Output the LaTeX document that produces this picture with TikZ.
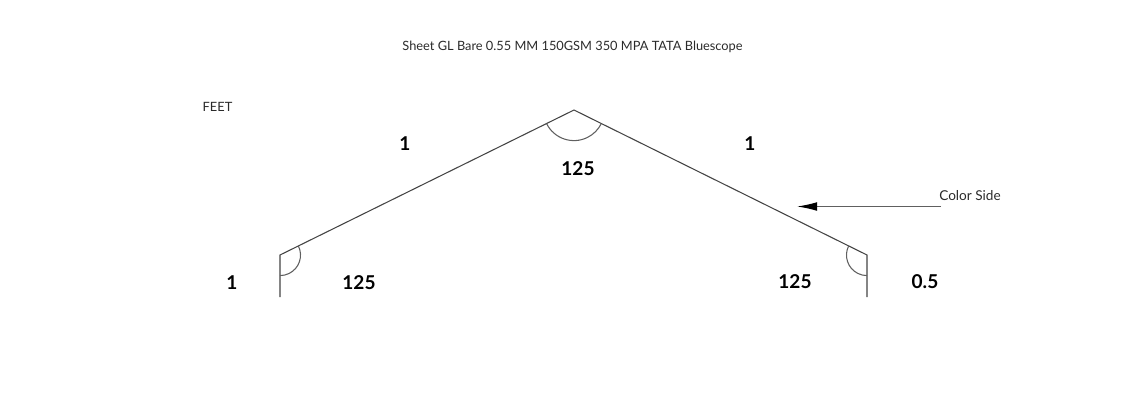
\documentclass[tikz,border=0pt]{standalone}
\usepackage{fontspec}
\setmainfont{Lato}
\usetikzlibrary{arrows.meta}
\definecolor{ink}{HTML}{444444}
\definecolor{txt}{HTML}{2A2A2A}
\tikzset{
  sheet/.style={draw=ink,line width=0.8pt},
  anglearc/.style={draw=ink!85,line width=0.8pt},
  lbl/.style={text=txt,font=\fontsize{9.6pt}{11pt}\selectfont,inner sep=0pt},
  dim/.style={text=black,font=\fontsize{14.3pt}{16pt}\selectfont\bfseries,inner sep=0pt}
}
\begin{document}
\begin{tikzpicture}[x=0.75pt,y=-0.75pt]
\useasboundingbox (0,0) rectangle (1138,415);
\coordinate (lb) at (280,297);
\coordinate (lc) at (280,255);
\coordinate (ap) at (574,110);
\coordinate (rc) at (867,255);
\coordinate (rb) at (867,297);
\draw[sheet,line join=miter] (lb) -- (lc) -- (ap) -- (rc) -- (rb);
\draw[anglearc] (546.6,123.6) arc[start angle=153.7,end angle=26.3,radius=30.5];
\draw[anglearc] (298.4,246) arc[start angle=-26.3,end angle=90,radius=20.5];
\draw[anglearc] (848.6,246) arc[start angle=206.3,end angle=90,radius=20.5];
\node[lbl] (title) at (572.5,47) {Sheet GL Bare 0.55 MM 150GSM 350 MPA TATA Bluescope};
\node[lbl] (feet) at (217.5,107) {FEET};
\node[lbl,font=\fontsize{10.2pt}{12pt}\selectfont] (color) at (970,196) {Color Side};
\coordinate (arrfrom) at (941,206.5);
\coordinate (arrto) at (797,206.5);
\draw[draw=ink!85,line width=0.9pt,-{Latex[length=15pt,width=6.5pt,black]}] (arrfrom) -- (arrto);
\node[dim] (d1) at (405,143.5) {1};
\node[dim] (d2) at (750,143.5) {1};
\node[dim] (d3) at (578,168.5) {125};
\node[dim] (d4) at (232,282.5) {1};
\node[dim] (d5) at (359,282.5) {125};
\node[dim] (d6) at (795,281.5) {125};
\node[dim] (d7) at (925,281.5) {0.5};
\end{tikzpicture}
\end{document}
